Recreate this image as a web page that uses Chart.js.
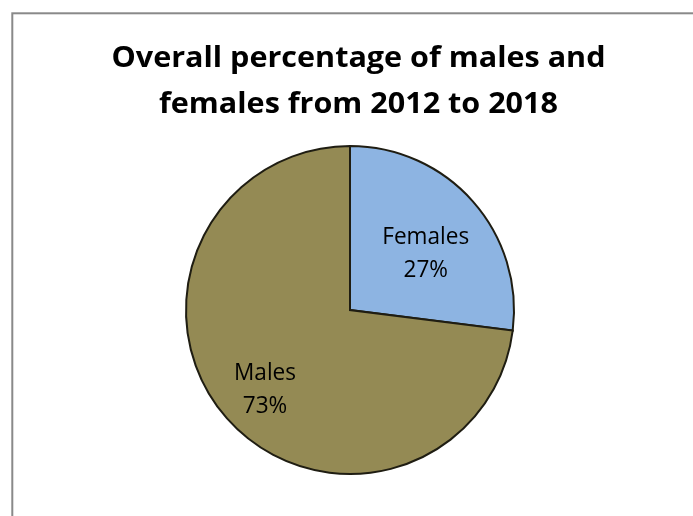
<!DOCTYPE html>
<html>
<head>
<meta charset="utf-8">
<script src="https://cdn.jsdelivr.net/npm/chart.js@4/dist/chart.umd.min.js"></script>
<style>
  html, body { margin: 0; padding: 0; background: #ffffff; overflow: hidden; }
  #wrap { width: 693px; height: 516px; position: relative; }
</style>
</head>
<body>
<div id="wrap"><canvas id="c" width="693" height="516"></canvas></div>
<script>
const titleLines = ["Overall percentage of males and", "females from 2012 to 2018"];
const categories = ["Females", "Males"];
const percentValues = [27, 73];
const sliceColors = ["#8DB4E2", "#948A54"];

// draw text condensed horizontally to mimic a narrow (Calibri-like) face
function condensedText(ctx, text, x, y, sx) {
  ctx.save();
  ctx.translate(x, y);
  ctx.scale(sx, 1);
  ctx.fillText(text, 0, 0);
  ctx.restore();
}

const frameAndTitle = {
  id: 'frameAndTitle',
  beforeDraw(chart) {
    const ctx = chart.ctx;
    ctx.save();
    ctx.fillStyle = '#ffffff';
    ctx.fillRect(0, 0, chart.width, chart.height);
    ctx.strokeStyle = '#898989';
    ctx.lineWidth = 2;
    ctx.strokeRect(12.3, 13.3, 760, 600);
    const fam = '"Open Sans", "Liberation Sans", sans-serif';
    ctx.font = 'bold 28px ' + fam;
    const sx = 494 / ctx.measureText(titleLines[0]).width;
    ctx.fillStyle = '#000000';
    ctx.textAlign = 'center';
    ctx.textBaseline = 'alphabetic';
    const baselines = [67, 113];
    titleLines.forEach((t, i) => condensedText(ctx, t, 358.5, baselines[i], sx));
    ctx.restore();
  }
};

const sliceLabels = {
  id: 'sliceLabels',
  afterDatasetsDraw(chart, args, opts) {
    const ctx = chart.ctx;
    const meta = chart.getDatasetMeta(0);
    const data = chart.data.datasets[0].data;
    ctx.save();
    ctx.font = '23px "Open Sans", "Liberation Sans", sans-serif';
    const sx = 87 / ctx.measureText('Females').width;
    ctx.fillStyle = '#000000';
    ctx.textAlign = 'center';
    ctx.textBaseline = 'alphabetic';
    meta.data.forEach((arc, i) => {
      const p = arc.getProps(['x', 'y', 'startAngle', 'endAngle', 'outerRadius'], true);
      const mid = (p.startAngle + p.endAngle) / 2 + opts.angleShift[i] * Math.PI / 180;
      const r = p.outerRadius * opts.radii[i];
      const cx = p.x + Math.cos(mid) * r;
      const cy = p.y + Math.sin(mid) * r;
      condensedText(ctx, chart.data.labels[i], cx, cy - 8.5, sx);
      condensedText(ctx, data[i] + '%', cx, cy + 24.5, sx);
    });
    ctx.restore();
  }
};

new Chart(document.getElementById('c'), {
  type: 'pie',
  data: {
    labels: categories,
    datasets: [{
      data: percentValues,
      backgroundColor: sliceColors,
      borderColor: '#1F1D12',
      borderWidth: 2,
      borderJoinStyle: 'miter'
    }]
  },
  options: {
    responsive: false,
    animation: false,
    layout: { padding: { top: 145, bottom: 41, left: 185, right: 178 } },
    plugins: {
      legend: { display: false },
      tooltip: { enabled: false },
      title: { display: false },
      sliceLabels: { radii: [0.579, 0.705], angleShift: [4.3, -1.3] }
    }
  },
  plugins: [frameAndTitle, sliceLabels]
});
</script>
</body>
</html>
